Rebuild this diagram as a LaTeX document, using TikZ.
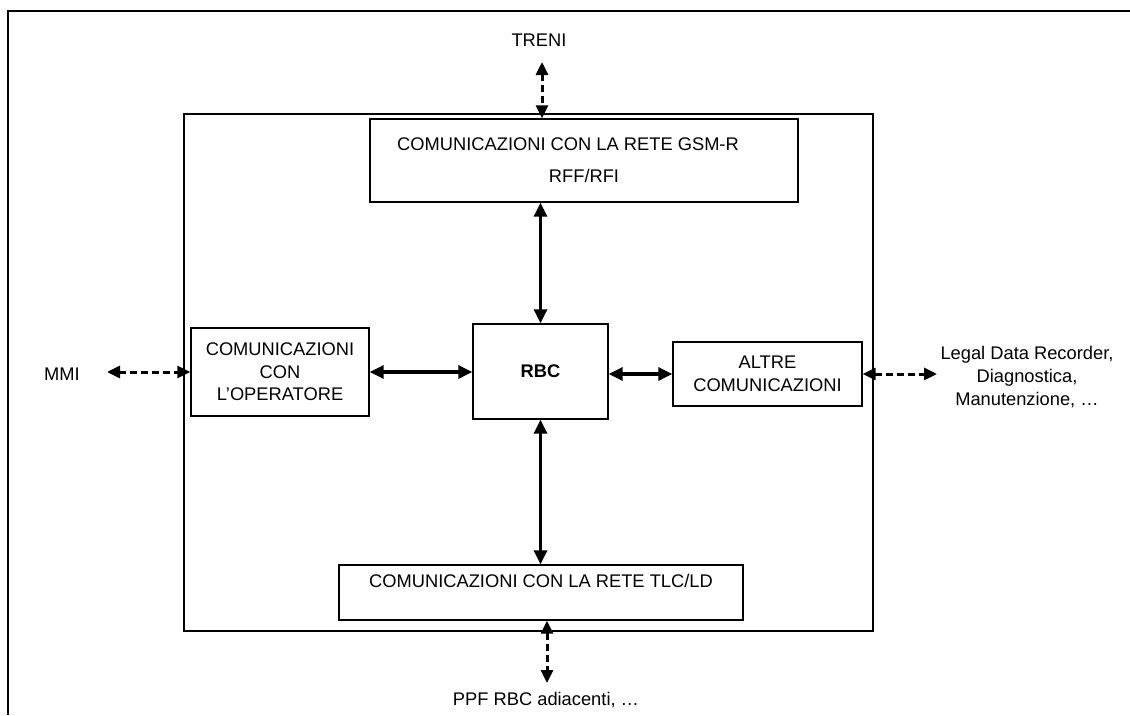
\documentclass[tikz,border=0pt]{standalone}
\usepackage{fontspec}
\setmainfont{Liberation Sans}
\usetikzlibrary{arrows.meta}
\begin{document}
\begin{tikzpicture}[x=1pt,y=-1pt,
  box/.style={draw, line width=1.4pt, inner sep=0pt, align=center, font=\fontsize{18.3}{22.5}\selectfont},
  lbl/.style={inner sep=0pt, align=center, font=\fontsize{18.3}{23}\selectfont},
  biarrow/.style={line width=3.2pt, {Triangle[length=14pt,width=13pt]}-{Triangle[length=14pt,width=13pt]}},
  dasharrow/.style={line width=3pt, dash pattern=on 7pt off 4pt, {Triangle[length=13pt,width=12pt]}-{Triangle[length=13pt,width=12pt]}}
]
\useasboundingbox (0,0) rectangle (1130,715);
\draw[line width=2pt] (8,715) -- (8,11) -- (1130,11);
\node[draw, line width=1.4pt, minimum width=689pt, minimum height=517pt, inner sep=0pt] (frame) at (528.5,372.5) {};
\node[box, minimum width=428pt, minimum height=83pt, font=\fontsize{18.3}{32}\selectfont] (gsm) at (584,160.5) {COMUNICAZIONI CON LA RETE GSM-R\hspace*{32pt}\\RFF/RFI};
\node[box, minimum width=135pt, minimum height=95pt, font=\fontsize{18.3}{22.5}\selectfont\bfseries] (rbc) at (540.5,371.5) {RBC};
\node[box, minimum width=178pt, minimum height=88pt] (op) at (280,372) {COMUNICAZIONI\\CON\\L’OPERATORE};
\node[box, minimum width=189pt, minimum height=64pt] (altre) at (767.5,374) {ALTRE\\COMUNICAZIONI};
\node[box, minimum width=404pt, minimum height=55pt] (tlc) at (541,592.5) {};
\node[lbl] (tlctext) at (541,581) {COMUNICAZIONI CON LA RETE TLC/LD};
\node[lbl] (treni) at (539,40) {TRENI};
\node[lbl] (mmi) at (62,374) {MMI};
\node[lbl] (ldr) at (1027,377) {Legal Data Recorder,\\Diagnostica,\\Manutenzione, …};
\node[lbl] (ppf) at (546,700) {PPF RBC adiacenti, …};
\coordinate (treniTip) at (542,62);
\coordinate (mmiTip) at (107,372);
\coordinate (ldrTip) at (937,374);
\coordinate (ppfTip) at (547,683);
\draw[dasharrow] (treniTip) -- (treniTip |- gsm.north);
\draw[biarrow] (gsm.south -| rbc.north) -- (rbc.north);
\draw[biarrow] (op.east) -- (op.east -| rbc.west);
\draw[biarrow] (rbc.east |- altre.west) -- (altre.west);
\draw[biarrow] (rbc.south) -- (rbc.south |- tlc.north);
\draw[dasharrow] (mmiTip) -- (mmiTip -| op.west);
\draw[dasharrow] (altre.east) -- (ldrTip);
\draw[dasharrow] (ppfTip |- tlc.south) -- (ppfTip);
\end{tikzpicture}
\end{document}
